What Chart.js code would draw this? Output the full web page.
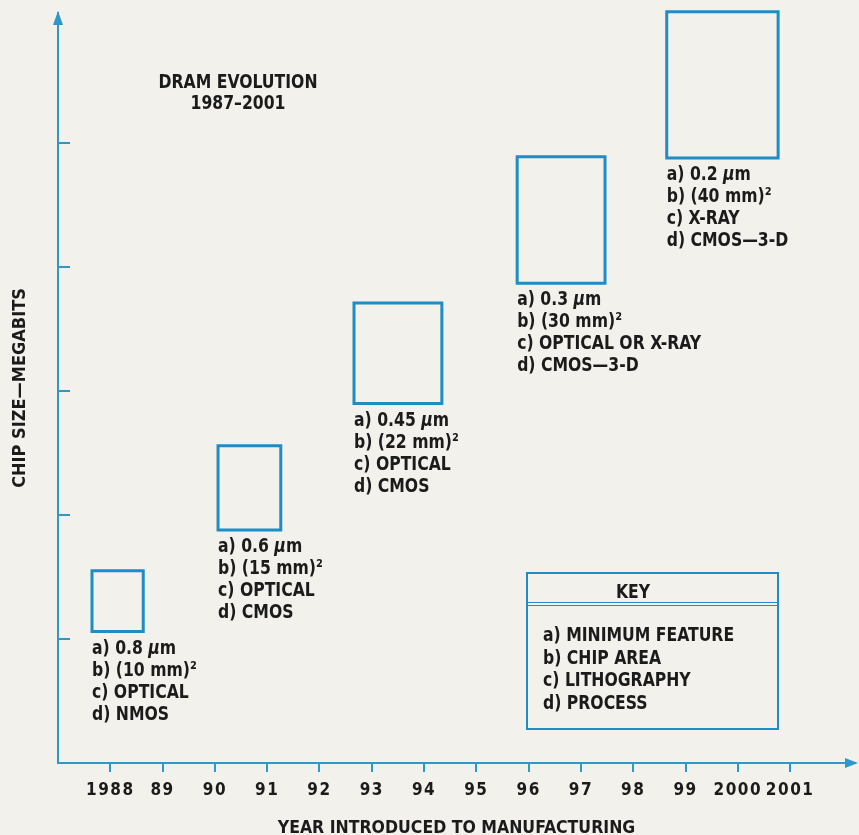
<!DOCTYPE html>
<html>
<head>
<meta charset="utf-8">
<script src="https://cdn.jsdelivr.net/npm/chart.js@4.4.1/dist/chart.umd.min.js"></script>
<style>
	html, body { margin: 0; padding: 0; background: #f3f1eb; }
	#wrap { width: 859px; height: 835px; position: relative; }
</style>
</head>
<body>
<div id="wrap"><canvas id="dram-canvas"></canvas></div>
<script>
// years on the x axis and how they are printed
let years = [1988, 1989, 1990, 1991, 1992, 1993, 1994, 1995, 1996, 1997, 1998, 1999, 2000, 2001];
let year_labels = ['1988', '89', '90', '91', '92', '93', '94', '95', '96', '97', '98', '99', '2000', '2001'];
let y_tick_values = [1, 2, 3, 4, 5];

// one box per DRAM generation: x in years, y in chart units
let box_left = [1987.65, 1990.06, 1992.66, 1995.78, 1998.64];
let box_right = [1988.63, 1991.26, 1994.34, 1997.46, 2000.77];
let box_bottom = [1.06, 1.88, 2.90, 3.87, 4.88];
let box_top = [1.55, 2.56, 3.71, 4.89, 6.06];

// text under each box
let min_feature = ['0.8 µm', '0.6 µm', '0.45 µm', '0.3 µm', '0.2 µm'];
let chip_area = ['(10 mm)²', '(15 mm)²', '(22 mm)²', '(30 mm)²', '(40 mm)²'];
let lithography = ['OPTICAL', 'OPTICAL', 'OPTICAL', 'OPTICAL OR X-RAY', 'X-RAY'];
let process_tech = ['NMOS', 'CMOS', 'CMOS', 'CMOS—3-D', 'CMOS—3-D'];

let key_items = ['a) MINIMUM FEATURE', 'b) CHIP AREA', 'c) LITHOGRAPHY', 'd) PROCESS'];

const FONT = '"Liberation Sans Narrow", "DejaVu Sans Condensed", "Arial Narrow", sans-serif';
const NARROW = 0.87; // the print uses a condensed face, squeeze the drawn text a bit
const BLUE = '#1f8dc5';
const AXIS_BLUE = '#2f98c9';
const INK = '#1b1b1b';
const PAPER = '#f3f1eb';

let box_datasets = [];
for (var i = 0; i < box_left.length; i++) {
	box_datasets.push({
		data: [
			{x: box_left[i], y: box_bottom[i]},
			{x: box_right[i], y: box_bottom[i]},
			{x: box_right[i], y: box_top[i]},
			{x: box_left[i], y: box_top[i]},
			{x: box_left[i], y: box_bottom[i]}
		],
		showLine: true,
		borderColor: BLUE,
		backgroundColor: BLUE,
		borderWidth: 3,
		borderCapStyle: 'square',
		borderJoinStyle: 'miter',
		pointRadius: 0,
		tension: 0,
		fill: false,
		clip: false
	});
};

//draws a line of condensed text, with the µ set in italic
let drawLabel = function(ctx, text, x, y, align) {
	ctx.save();
	ctx.translate(x, y);
	ctx.scale(NARROW, 1);
	ctx.textAlign = align || 'left';
	let parts = text.split('µ');
	let cx = 0;
	for (var k = 0; k < parts.length; k++) {
		if (k > 0) {
			ctx.font = 'italic bold 20px ' + FONT;
			ctx.fillText('µ', cx, 0);
			cx += ctx.measureText('µ').width;
		}
		ctx.font = 'bold 20px ' + FONT;
		ctx.fillText(parts[k], cx, 0);
		cx += ctx.measureText(parts[k]).width;
	};
	ctx.restore();
};

let paperPlugin = {
	id: 'paper',
	beforeDraw: function(chart) {
		let ctx = chart.ctx;
		ctx.save();
		ctx.fillStyle = PAPER;
		ctx.fillRect(0, 0, chart.width, chart.height);
		ctx.restore();
	},
	afterDatasetsDraw: function(chart) {
		// x tick labels are drawn after the datasets (z: 1), spaced out like the print
		chart.ctx.letterSpacing = '1.5px';
	},
	afterDraw: function(chart) {
		let ctx = chart.ctx;
		ctx.letterSpacing = '0px';
		let xs = chart.scales.x;
		let ys = chart.scales.y;
		let area = chart.chartArea;

		ctx.save();
		// arrow heads on both axes
		ctx.fillStyle = AXIS_BLUE;
		ctx.beginPath();
		ctx.moveTo(area.left, area.top - 2);
		ctx.lineTo(area.left - 5, area.top + 12);
		ctx.lineTo(area.left + 5, area.top + 12);
		ctx.closePath();
		ctx.fill();
		ctx.beginPath();
		ctx.moveTo(area.right + 3, area.bottom);
		ctx.lineTo(area.right - 10, area.bottom - 5);
		ctx.lineTo(area.right - 10, area.bottom + 5);
		ctx.closePath();
		ctx.fill();

		ctx.fillStyle = INK;
		ctx.textBaseline = 'middle';

		// title
		drawLabel(ctx, 'DRAM EVOLUTION', area.left + 180, 83, 'center');
		drawLabel(ctx, '1987–2001', area.left + 180, 104, 'center');

		// labels under the boxes
		for (var i = 0; i < box_left.length; i++) {
			let lx = xs.getPixelForValue(box_left[i]);
			let ly = ys.getPixelForValue(box_bottom[i]) + 17;
			drawLabel(ctx, 'a) ' + min_feature[i], lx, ly);
			drawLabel(ctx, 'b) ' + chip_area[i], lx, ly + 22);
			drawLabel(ctx, 'c) ' + lithography[i], lx, ly + 44);
			drawLabel(ctx, 'd) ' + process_tech[i], lx, ly + 66);
		};

		// key box
		let kx = 527, ky = 573, kw = 251, kh = 156;
		ctx.strokeStyle = BLUE;
		ctx.lineWidth = 2;
		ctx.strokeRect(kx, ky, kw, kh);
		ctx.lineWidth = 1;
		ctx.beginPath();
		ctx.moveTo(kx, ky + 29.5); ctx.lineTo(kx + kw, ky + 29.5);
		ctx.moveTo(kx, ky + 32.5); ctx.lineTo(kx + kw, ky + 32.5);
		ctx.stroke();
		drawLabel(ctx, 'KEY', kx + 106, ky + 20, 'center');
		for (var j = 0; j < key_items.length; j++) {
			drawLabel(ctx, key_items[j], kx + 16, ky + 63 + j * 22.5);
		};
		ctx.restore();
	}
};

let dram_chart = new Chart(document.getElementById('dram-canvas'), {
	type: 'scatter',
	data: { datasets: box_datasets },
	plugins: [paperPlugin],
	options: {
		responsive: true,
		maintainAspectRatio: false,
		animation: false,
		layout: { padding: { top: 13, right: 4, left: 0, bottom: 0 } },
		plugins: {
			legend: { display: false },
			tooltip: { enabled: false }
		},
		scales: {
			x: {
				type: 'linear',
				min: 1987,
				max: 2002.24,
				afterBuildTicks: function(scale) {
					scale.ticks = years.map(v => ({value: v}));
				},
				afterFit: function(scale) {
					scale.height = 72;
				},
				ticks: {
					autoSkip: false,
					maxRotation: 0,
					padding: 8,
					z: 1,
					color: INK,
					font: { family: FONT, size: 17, weight: 'bold' },
					callback: function(val) {
						return year_labels[years.indexOf(val)];
					}
				},
				grid: {
					drawOnChartArea: false,
					drawTicks: true,
					tickLength: 9,
					color: AXIS_BLUE,
					lineWidth: 2
				},
				border: { color: AXIS_BLUE, width: 2 },
				title: {
					display: true,
					text: 'YEAR INTRODUCED TO MANUFACTURING',
					color: INK,
					font: { family: FONT, size: 17.5, weight: 'bold', lineHeight: 0.7 },
					padding: 0
				}
			},
			y: {
				type: 'linear',
				min: 0,
				max: 6.05,
				afterBuildTicks: function(scale) {
					scale.ticks = y_tick_values.map(v => ({value: v}));
				},
				afterFit: function(scale) {
					scale.width = 58;
				},
				ticks: { display: false },
				grid: {
					drawOnChartArea: false,
					drawTicks: true,
					tickLength: -12,
					color: AXIS_BLUE,
					lineWidth: 2
				},
				border: { color: AXIS_BLUE, width: 2 },
				title: {
					display: true,
					text: 'CHIP SIZE—MEGABITS',
					color: INK,
					font: { family: FONT, size: 18, weight: 'bold', lineHeight: 1.2 },
					padding: { top: 10, bottom: 0 }
				}
			}
		}
	}
});
</script>
</body>
</html>
